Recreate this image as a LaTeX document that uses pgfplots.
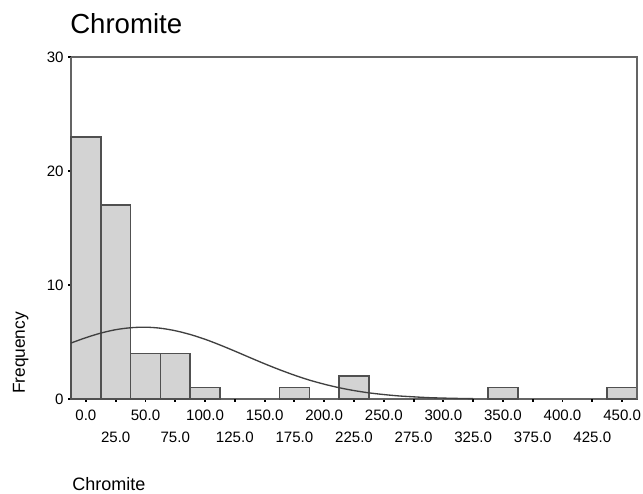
\documentclass[border=0pt]{standalone}
\usepackage{pgfplots}
\pgfplotsset{compat=1.18}
\usepackage{fontspec}
\setmainfont{Liberation Sans}
\definecolor{barfill}{HTML}{D3D3D3}
\definecolor{baredge}{HTML}{505050}
\definecolor{axgray}{HTML}{646464}
\definecolor{curvecol}{HTML}{404040}
\begin{document}
\begin{tikzpicture}[x=1pt,y=1pt]
\path[use as bounding box] (-53.25,-70.5) rectangle (429,299.25);
\begin{axis}[
  at={(0,0)}, anchor=south west,
  scale only axis,
  width=424.5pt, height=256.5pt,
  xmin=-12.5, xmax=462.5, ymin=0, ymax=30,
  axis line style={axgray, line width=1.4pt},
  axis x line*=bottom, axis y line*=left,
  tick align=outside,
  major tick length=2pt,
  tick style={black, line width=1.4pt},
  xtick={0,50,...,450},
  xticklabels={0.0,50.0,100.0,150.0,200.0,250.0,300.0,350.0,400.0,450.0},
  extra x ticks={25,75,...,425},
  extra x tick labels={25.0,75.0,125.0,175.0,225.0,275.0,325.0,375.0,425.0},
  extra x tick style={xticklabel style={yshift=-16.5pt}},
  ytick={0,10,20,30},
  xticklabel style={font=\fontsize{11.3}{13}\selectfont, yshift=-3pt},
  yticklabel style={font=\fontsize{11.3}{13}\selectfont, xshift=0pt},
  /pgf/number format/assume math mode=true,
  clip=false,
]
\addplot+[ybar, bar width=25, fill=barfill, draw=baredge, line width=1.1pt, mark=none]
coordinates {(0,23) (25,17) (50,4) (75,4) (100,1) (175,1) (225,2) (350,1) (450,1)};
\draw[axgray, line width=1.4pt] (rel axis cs:0,1) -- (rel axis cs:1,1) -- (rel axis cs:1,0);
\addplot[curvecol, line width=1pt, smooth] coordinates {
(-12.5,4.91) (0,5.38) (12.5,5.78) (25,6.08) (37.5,6.25) (50,6.30) (62.5,6.21)
(75,5.99) (87.5,5.66) (100,5.24) (112.5,4.74) (125,4.20) (137.5,3.64) (150,3.09)
(162.5,2.57) (175,2.09) (187.5,1.66) (200,1.30) (212.5,0.99) (225,0.74) (237.5,0.54)
(250,0.39) (262.5,0.27) (275,0.19) (287.5,0.12) (300,0.08) (312.5,0.05) (325,0.03)};
\end{axis}
\node[anchor=base west, inner sep=0, font=\fontsize{20.7}{24}\selectfont] at (-0.75,273.75) {Chromite};
\node[anchor=base west, inner sep=0, font=\fontsize{13.5}{16}\selectfont] at (0.75,-68.25) {Chromite};
\node[anchor=base, rotate=90, inner sep=0, font=\fontsize{13}{16}\selectfont] at (-34.5,34.5) {Frequency};
\end{tikzpicture}
\end{document}
